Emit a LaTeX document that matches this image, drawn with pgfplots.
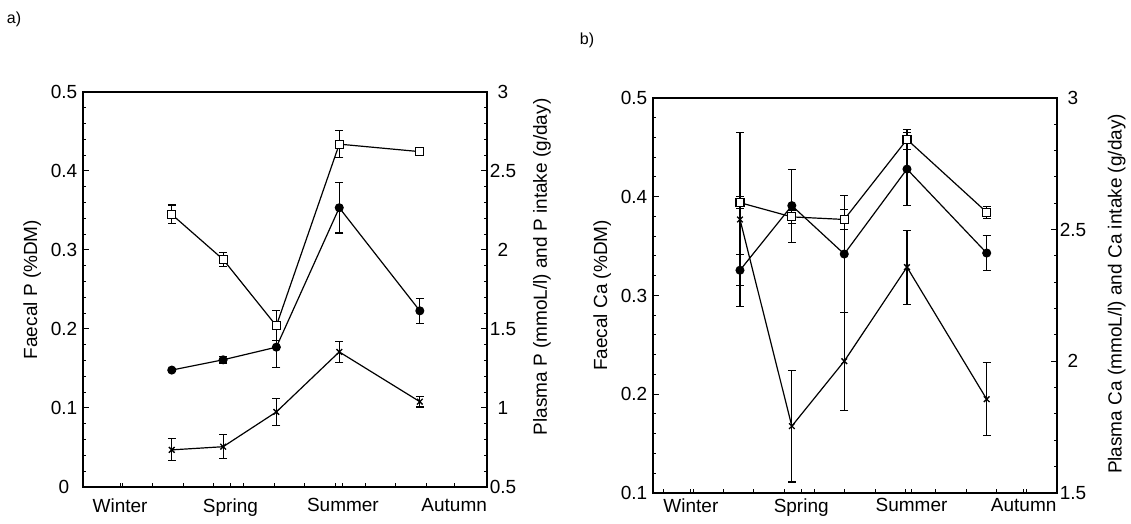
\documentclass[border=0pt]{standalone}
\usepackage{fontspec}
\setmainfont{Liberation Sans}
\usepackage{pgfplots}
\pgfplotsset{compat=1.18}

\newcommand{\figfont}{\fontsize{19}{22}\selectfont}

\pgfplotsset{
  panel/.style={
    scale only axis, width=404pt, height=395pt, anchor=south west,
    xmin=0, clip=false,
    axis line style={line width=1.4pt},
    tick align=inside,
    tick style={black, line width=1pt},
    major tick length=6pt, minor tick length=3pt,
    xtick pos=bottom, ytick pos=left,
    xtick style={/pgfplots/major tick length=4pt},
    xticklabels={},
    extra x tick labels={Winter,Spring,Summer,Autumn},
    extra x tick style={major tick length=0pt},
    minor y tick num=4,
    /pgf/number format/assume math mode=true,
    ticklabel style={font=\figfont},
    yticklabel style={anchor=center, xshift=-19pt},
    label style={font=\figfont},
    ylabel style={at={(axis description cs:-0.126,0.5)}, anchor=center},
  },
  rightaxis/.style={
    scale only axis, width=404pt, height=395pt, anchor=south west,
    xmin=0, axis x line=none, axis y line*=right,
    axis line style={line width=1.4pt},
    tick align=inside,
    tick style={black, line width=1pt},
    major tick length=6pt, minor tick length=3pt,
    minor y tick num=4,
    /pgf/number format/assume math mode=true,
    ticklabel style={font=\figfont},
    yticklabel style={anchor=center, xshift=16pt},
    label style={font=\figfont},
  },
  errs/.style={error bars/.cd, y dir=both, y explicit,
    error bar style={line width=1.1pt, solid},
    error mark options={line width=1.1pt, mark size=4pt, rotate=90}},
  sq/.style={black, line width=1.2pt, mark=square*, mark size=4pt,
    mark options={fill=white, solid, line width=1.1pt}, errs},
  dot/.style={black, line width=1.2pt, mark=*, mark size=3.9pt,
    mark options={fill=black, solid}, errs},
  crs/.style={black, line width=1.2pt, mark=x, mark size=4pt,
    mark options={solid, line width=1.3pt}, errs},
}

\begin{document}
\begin{tikzpicture}
\useasboundingbox (0,0) rectangle (1131pt,524pt);

\node[font=\fontsize{16}{18}\selectfont] at (14pt,505pt) {a)};
\node[font=\fontsize{16}{18}\selectfont] at (587pt,484pt) {b)};

% ---------- a) phosphorus ----------
\begin{axis}[panel, at={(83pt,37pt)}, xmax=13.29, ymin=0, ymax=0.5,
  ytick={0,0.1,0.2,0.3,0.4,0.5},
  xtick={1.29,2.29,3.29,4.29,5.29,6.29,7.29,8.29,9.29,10.29,11.29},
  extra x ticks={1.22,4.85,8.55,12.21},
  xticklabel style={yshift=-8pt},
  ylabel={Faecal P (\%DM)}]
\addplot[crs] table[x=x, y=y, y error=e, row sep=\\] {
x y e \\ 2.92 0.047 0.014 \\ 4.61 0.051 0.015 \\ 6.36 0.095 0.0175 \\ 8.43 0.171 0.013 \\ 11.08 0.108 0.0067 \\
};
\addplot[dot] table[x=x, y=y, y error=e, row sep=\\] {
x y e \\ 2.92 0.148 0.002 \\ 4.61 0.161 0.004 \\ 6.36 0.177 0.026 \\ 8.43 0.3535 0.032 \\ 11.08 0.223 0.016 \\
};
\addplot[sq] table[x=x, y=y, y error=e, row sep=\\] {
x y e \\ 2.92 0.345 0.012 \\ 4.61 0.288 0.009 \\ 6.36 0.204 0.019 \\ 8.43 0.434 0.017 \\ 11.08 0.4245 0.005 \\
};
\end{axis}
\begin{axis}[rightaxis, at={(83pt,37pt)}, xmax=13.29, ymin=0.5, ymax=3,
  ytick={0.5,1,1.5,2,2.5,3},
  ylabel={Plasma P (mmoL/l) and P intake (g/day)},
  ylabel style={at={(axis description cs:1.136,0.557)}, anchor=center}]
\end{axis}

% ---------- b) calcium ----------
\begin{axis}[panel, at={(653pt,31pt)}, xmax=13.33, ymin=0.1, ymax=0.5,
  ytick={0.1,0.2,0.3,0.4,0.5},
  xtick={0.33,1.33,2.33,3.33,4.33,5.33,6.33,7.33,8.33,9.33,10.33,11.33,12.33},
  extra x ticks={1.25,4.89,8.53,12.23},
  xticklabel style={yshift=-2pt},
  ylabel={Faecal Ca (\%DM)}]
\addplot[crs] table[x=x, y=y, y error=e, row sep=\\] {
x y e \\ 2.87 0.377 0.088 \\ 4.58 0.1677 0.0566 \\ 6.31 0.2335 0.0495 \\ 8.38 0.3287 0.0375 \\ 11.01 0.195 0.0372 \\
};
\addplot[dot] table[x=x, y=y, y error=e, row sep=\\] {
x y e \\ 2.87 0.3256 0.0155 \\ 4.58 0.391 0.037 \\ 6.31 0.342 0.059 \\ 8.38 0.428 0.037 \\ 11.01 0.343 0.018 \\
};
\addplot[sq] table[x=x, y=y, y error=e, row sep=\\] {
x y e \\ 2.87 0.394 0.006 \\ 4.58 0.3796 0.007 \\ 6.31 0.377 0.01 \\ 8.38 0.458 0.01 \\ 11.01 0.3843 0.006 \\
};
\end{axis}
\begin{axis}[rightaxis, at={(653pt,31pt)}, xmax=13.33, ymin=1.5, ymax=3,
  ytick={1.5,2,2.5,3},
  ylabel={Plasma Ca (mmoL/l) and Ca intake (g/day)},
  ylabel style={at={(axis description cs:1.148,0.504)}, anchor=center}]
\end{axis}
\end{tikzpicture}
\end{document}
